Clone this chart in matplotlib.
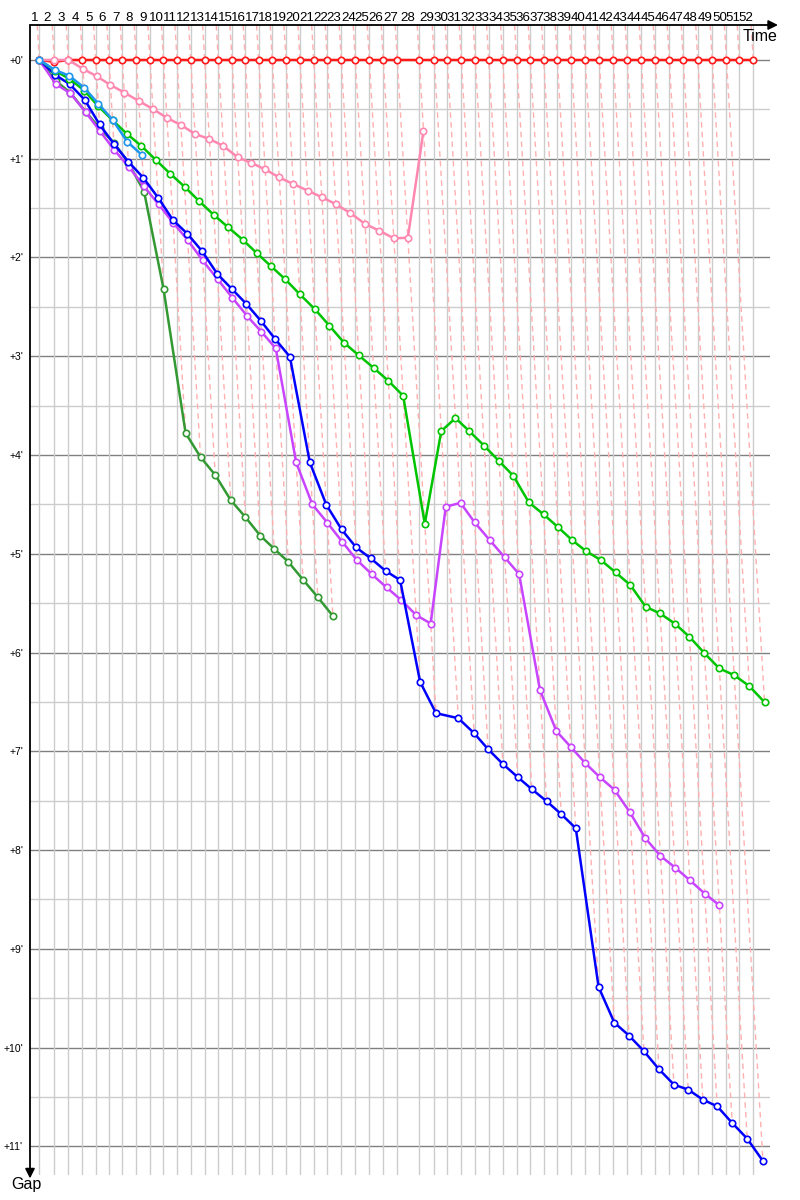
import matplotlib
matplotlib.use("Agg")
import matplotlib.pyplot as plt

# Leader's cumulative race time at the end of each lap (minutes)
lap_times = [1.59, 4.15, 6.55, 8.97, 11.23, 13.50, 15.78, 18.17, 20.51, 22.82,
             25.13, 27.47, 29.86, 32.19, 34.53, 36.80, 39.09, 41.42, 43.76, 46.15,
             48.50, 50.82, 53.21, 55.61, 58.00, 60.39, 62.79, 66.55, 69.11, 71.33,
             73.73, 76.12, 78.41, 80.80, 83.19, 85.52, 87.81, 90.14, 92.53, 94.92,
             97.31, 99.71, 102.10, 104.50, 106.89, 109.28, 111.68, 114.15, 116.63, 119.06,
             121.25, 123.64]
lap_labels = [str(i) for i in range(1, 53)]

# Gap to leader (minutes) at each completed lap, starting with lap 1
gap_red = [0, 0.02] + [0] * 50
gap_pink = [0, 0, 0, 0.09, 0.165, 0.253, 0.33, 0.415, 0.496, 0.587,
            0.658, 0.75, 0.80, 0.871, 0.986, 1.043, 1.107, 1.19, 1.256, 1.323,
            1.39, 1.46, 1.55, 1.66, 1.729, 1.806, 1.80, 0.716]
gap_lightblue = [0, 0.101, 0.16, 0.28, 0.442, 0.605, 0.827, 0.962]
gap_green = [0, 0.11, 0.19, 0.31, 0.47, 0.61, 0.746, 0.871, 1.013, 1.152,
             1.283, 1.428, 1.57, 1.694, 1.82, 1.955, 2.087, 2.221, 2.373, 2.522,
             2.691, 2.863, 2.991, 3.117, 3.248, 3.4, 4.697, 3.758, 3.626, 3.758,
             3.906, 4.062, 4.21, 4.48, 4.601, 4.73, 4.862, 4.976, 5.064, 5.189,
             5.317, 5.537, 5.604, 5.706, 5.841, 6.006, 6.161, 6.229, 6.34, 6.503]
gap_blue = [0, 0.15, 0.246, 0.405, 0.653, 0.85, 1.03, 1.192, 1.395, 1.621,
            1.759, 1.935, 2.167, 2.319, 2.471, 2.64, 2.826, 3.005, 4.075, 4.504,
            4.753, 4.936, 5.047, 5.173, 5.267, 6.297, 6.614, 6.665, 6.817, 6.979,
            7.13, 7.262, 7.384, 7.505, 7.637, 7.779, 9.386, 9.747, 9.879, 10.037,
            10.22, 10.375, 10.426, 10.527, 10.595, 10.764, 10.922, 11.149]
gap_purple = [0, 0.243, 0.337, 0.527, 0.719, 0.912, 1.08, 1.276, 1.462, 1.648,
              1.823, 2.029, 2.221, 2.408, 2.593, 2.752, 2.92, 4.075, 4.5, 4.686,
              4.879, 5.064, 5.206, 5.341, 5.469, 5.621, 5.706, 4.524, 4.484, 4.683,
              4.862, 5.037, 5.206, 6.381, 6.796, 6.958, 7.12, 7.262, 7.39, 7.617,
              7.88, 8.059, 8.177, 8.306, 8.44, 8.559]
gap_darkgreen = [0, 0.21, 0.331, 0.523, 0.69, 0.837, 1.04, 1.334, 2.319, 3.778,
                 4.021, 4.203, 4.457, 4.629, 4.815, 4.95, 5.083, 5.263, 5.44, 5.63]

# drawing order (bottom to top)
drivers = [
    (gap_darkgreen, "#339933"),
    (gap_purple, "#c844ff"),
    (gap_blue, "#0000ff"),
    (gap_green, "#00c400"),
    (gap_red, "#ff1a1a"),
    (gap_pink, "#ff88b0"),
    (gap_lightblue, "#1e96f0"),
]

Y_TOP, Y_BOT = -0.354, 11.29
X_MIN, X_MAX = 0, 126.5

plt.rcParams['font.family'] = ['Liberation Sans', 'DejaVu Sans']
fig = plt.figure(figsize=(8, 12), dpi=100)
ax = fig.add_axes([30 / 800, 25 / 1200, 740 / 800, 1150 / 1200])
ax.set_xlim(X_MIN, X_MAX)
ax.set_ylim(Y_BOT, Y_TOP)
for s in ax.spines.values():
    s.set_visible(False)

# horizontal grid
for k in range(0, 23):
    g = k / 2
    if k % 2 == 0:
        ax.axhline(g, color="#808080", lw=1, zorder=1)
    else:
        ax.axhline(g, color="#cccccc", lw=1, zorder=1)
# vertical grid at leader lap times
for t in lap_times:
    ax.axvline(t, color="#cccccc", lw=1, zorder=1)

# lap dashed lines: same-lap points of all drivers lie on x = t + gap
for i, t in enumerate(lap_times):
    gmax = 0
    for gaps, _ in drivers:
        if i < len(gaps):
            gmax = max(gmax, gaps[i])
    ax.plot([t + Y_TOP, t + gmax], [Y_TOP, gmax], color="#ffb0b0", lw=1,
            linestyle=(0, (4, 3)), zorder=2)

# driver lines
for gaps, col in drivers:
    xs = [lap_times[i] + g for i, g in enumerate(gaps)]
    ax.plot(xs, gaps, color=col, lw=1.8, zorder=3, marker="o", ms=4.6,
            mfc="white", mec=col, mew=1.2)

# y tick labels
ax.set_yticks(range(0, 12))
ax.set_yticklabels(["+%d'" % k for k in range(0, 12)], fontsize=7.5)
ax.tick_params(axis="y", length=0, pad=5)

# lap labels at top (centre of each lap)
prev = [0] + lap_times[:-1]
mids = [(a + b) / 2 for a, b in zip(prev, lap_times)]
ax.set_xticks(mids)
ax.set_xticklabels(lap_labels, fontsize=9.6)
ax.xaxis.tick_top()
ax.tick_params(axis="x", length=0, pad=0.5)

# axes arrows
ax.annotate("", xy=(1.0108, 1), xytext=(0, 1), xycoords="axes fraction",
            arrowprops=dict(arrowstyle="-|>", color="black", lw=1.3,
                            mutation_scale=14, shrinkA=0, shrinkB=0))
ax.annotate("", xy=(0, -0.003), xytext=(0, 1), xycoords="axes fraction",
            arrowprops=dict(arrowstyle="-|>", color="black", lw=1.3,
                            mutation_scale=14, shrinkA=0, shrinkB=0))

fig.text(743 / 800, 1 - 41 / 1200, "Time", fontsize=11.5, va="baseline", ha="left")
fig.text(11 / 800, 1 - 1189 / 1200, "Gap", fontsize=11.5, va="baseline", ha="left")

fig.savefig("out.png", dpi=100)
